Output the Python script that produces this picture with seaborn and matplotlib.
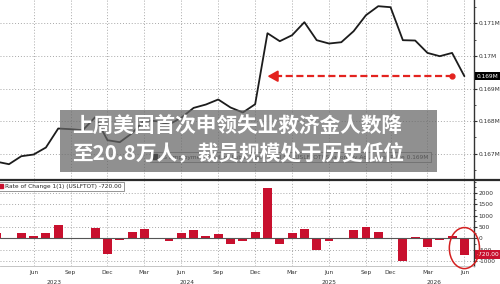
import numpy as np
import pandas as pd
import matplotlib
matplotlib.use("Agg")
import matplotlib.pyplot as plt
import matplotlib.transforms as mtransforms
from matplotlib.patches import Ellipse, Rectangle, Patch
from matplotlib.lines import Line2D
from matplotlib.ticker import MultipleLocator
import seaborn as sns

# ---------------- data ----------------
months = ["2023-03", "2023-04", "2023-05", "2023-06", "2023-07", "2023-08", "2023-09",
          "2023-10", "2023-11", "2023-12",
          "2024-01", "2024-02", "2024-03", "2024-04", "2024-05", "2024-06", "2024-07",
          "2024-08", "2024-09", "2024-10", "2024-11", "2024-12",
          "2025-01", "2025-02", "2025-03", "2025-04", "2025-05", "2025-06", "2025-07",
          "2025-08", "2025-09", "2025-11", "2025-12",
          "2026-01", "2026-02", "2026-03", "2026-04", "2026-05", "2026-06"]
# labour force level (thousands)
level = [166755, 166678, 166923, 166975, 167190, 167773, 167752, 167721, 168120, 167414,
         167353, 167629, 168028, 167997, 167896, 168104, 168405, 168509, 168663, 168417,
         168264, 168518,
         170696, 170451, 170635, 171034, 170482, 170380, 170420, 170758, 171248, 171525,
         171494,
         170482, 170472, 170092, 169991, 170092, 169377]
# month-over-month change (thousands)
change = [250, -50, 250, 90, 220, 600, -30, -40, 440, -700,
          -80, 280, 410, -30, -120, 240, 370, 120, 180, -240, -120, 280,
          2200, -240, 220, 410, -530, -100, 30, 350, 520, 300, -30,
          -1000, 40, -380, -90, 100, -720]
level_ticks = [167000, 168000, 169000, 170000, 171000]
change_ticks = [-1000, -500, 0, 500, 1000, 1500, 2000]
title_lines = ["上周美国首次申领失业救济金人数降", "至20.8万人，裁员规模处于历史低位"]
top_legend = "US Employment Civilian Labor Force Total SA (USLFTOT) Seasonally Adj.   Last Price 0.169M"
bottom_legend = "Rate of Change 1(1) (USLFTOT) -720.00"

# ---------------- style ----------------
sns.set_theme(style="white")
plt.rcParams["font.family"] = ["DejaVu Sans"]
plt.rcParams["axes.unicode_minus"] = False

RED = "#c8102e"
ARROW = "#e3231f"
GRID = dict(color="#a8a8a8", linestyle=(0, (1, 2)), linewidth=0.7)
FS = 4.2

W, H = 500, 284
fig = plt.figure(figsize=(W / 100, H / 100), dpi=100)
fig.patch.set_facecolor("white")


def rect(x0, y0, x1, y1):
    return [x0 / W, 1 - y1 / H, (x1 - x0) / W, (y1 - y0) / H]


ax1 = fig.add_axes(rect(0, 0, 474, 179))
ax2 = fig.add_axes(rect(0, 181, 474, 266))

df = pd.DataFrame({"idx": np.arange(len(months)), "month": months,
                   "level": level, "change": change})

sns.lineplot(data=df, x="idx", y="level", ax=ax1, color="#1c1c1c", lw=1.3)
sns.barplot(data=df, x="idx", y="change", ax=ax2, color=RED, width=0.72,
            native_scale=True, saturation=1, errorbar=None, edgecolor="none")

xlim = (0.27, 38.78)
quarters = [i for i, m in enumerate(months)
            if m[-2:] in ("03", "06", "09", "12") and xlim[0] <= i <= xlim[1]]
qnames = [pd.Timestamp(months[i] + "-01").strftime("%b") for i in quarters]

for ax in (ax1, ax2):
    ax.set_xticks(quarters)
    ax.set_xlim(*xlim)
    ax.set_axisbelow(True)
    ax.set_xlabel("")
    ax.set_ylabel("")
    ax.yaxis.tick_right()
    for s in ("left", "top", "bottom"):
        ax.spines[s].set_visible(False)
    ax.spines["right"].set_color("#333333")
    ax.spines["right"].set_linewidth(1.0)

# top panel
ax1.set_ylim(166224, 171715)
ax1.set_yticks(level_ticks)
ax1.set_yticklabels([f"{v / 1e6:g}M" for v in level_ticks])
ax1.yaxis.set_minor_locator(MultipleLocator(500))
ax1.tick_params(axis="x", length=0, labelbottom=False)
ax1.tick_params(axis="y", which="major", length=2.5, width=0.8, color="#333",
                labelsize=FS, labelcolor="#333", pad=1)
ax1.tick_params(axis="y", which="minor", length=1.5, width=0.6, color="#333")
ax1.grid(True, which="major", **GRID)

# bottom panel
ax2.set_ylim(-1220, 2529)
ax2.set_yticks(change_ticks)
ax2.set_yticklabels([str(v) for v in change_ticks])
ax2.yaxis.set_minor_locator(MultipleLocator(250))
ax2.set_xticklabels(qnames)
ax2.tick_params(axis="x", length=1.5, width=0.5, color="#999", labelsize=FS,
                labelcolor="#333", pad=1.5)
ax2.tick_params(axis="y", which="major", length=2.5, width=0.8, color="#333",
                labelsize=FS, labelcolor="#333", pad=1)
ax2.tick_params(axis="y", which="minor", length=1.5, width=0.6, color="#333")
ax2.grid(True, which="major", **GRID)
ax2.axhline(0, color="#555555", lw=0.8, zorder=1)
ax2.spines["bottom"].set_visible(True)
ax2.spines["bottom"].set_color("#bbbbbb")
ax2.spines["bottom"].set_linewidth(0.6)

# year labels
years = sorted(set(m[:4] for m in months))
trans2 = mtransforms.blended_transform_factory(ax2.transData, ax2.transAxes)
for y in years:
    idxs = [i for i, m in enumerate(months) if m.startswith(y)]
    a, b = max(idxs[0], xlim[0]), min(idxs[-1], xlim[1])
    ax2.text((a + b) / 2, -0.19, y, transform=trans2, ha="center", va="center",
             fontsize=FS, color="#333")

# last-value tags
tr1 = mtransforms.blended_transform_factory(ax1.transAxes, ax1.transData)
ax1.text(1.006, level[-1], f"{level[-1] / 1e6:.3f}M", transform=tr1, ha="left",
         va="center", fontsize=FS, color="white", clip_on=False,
         bbox=dict(boxstyle="square,pad=0.3", fc="black", ec="none"))
tr2 = mtransforms.blended_transform_factory(ax2.transAxes, ax2.transData)
ax2.text(1.006, change[-1], f"{change[-1]:.2f}", transform=tr2, ha="left",
         va="center", fontsize=FS, color="white", clip_on=False,
         bbox=dict(boxstyle="square,pad=0.3", fc=RED, ec="none"))

# legends
leg1 = ax1.legend(handles=[Patch(color="black")], labels=[top_legend],
                  loc="upper left", bbox_to_anchor=(0.31, 0.165), fontsize=FS,
                  frameon=True, fancybox=False, edgecolor="#666", handlelength=0.8,
                  handleheight=0.8, borderpad=0.35, handletextpad=0.5)
leg1.get_frame().set_linewidth(0.6)
leg2 = ax2.legend(handles=[Patch(color=RED)], labels=[bottom_legend],
                  loc="upper left", bbox_to_anchor=(-0.01, 1.0), fontsize=FS,
                  frameon=True, fancybox=False, edgecolor="#666", handlelength=0.8,
                  handleheight=0.8, borderpad=0.35, handletextpad=0.5,
                  borderaxespad=0.1)
leg2.get_frame().set_linewidth(0.6)

# dashed red arrow at latest level
i_start = months.index("2025-01")
i_end = months.index("2026-05")
ya = level[-1]
ax1.plot([i_start + 0.6, i_end], [ya, ya], color=ARROW, lw=1.6,
         linestyle=(0, (3.2, 1.6)), zorder=4)
ax1.annotate("", xy=(i_start, ya), xytext=(i_start + 0.9, ya),
             arrowprops=dict(arrowstyle="-|>,head_length=0.5,head_width=0.28",
                             color=ARROW, lw=1.4, shrinkA=0, shrinkB=0), zorder=4)
ax1.plot([i_end], [ya], "o", ms=3.5, color=ARROW, zorder=4)

# red circle around the last bar
ax2.add_patch(Ellipse((len(months) - 1, -430), width=2.45, height=1810, fill=False,
                      ec="#d42020", lw=1.1, clip_on=False, zorder=5))

# panel separator
fig.add_artist(Line2D([0, 1], [1 - 180 / H] * 2, transform=fig.transFigure,
                      color="#2a2a2a", lw=1.6))

# title band overlay
fig.add_artist(Rectangle((60 / W, 1 - 172 / H), 377 / W, 62 / H,
                         transform=fig.transFigure, fc=(0.40, 0.40, 0.40),
                         alpha=0.72, ec="none", zorder=10))
for k, line in enumerate(title_lines):
    fig.text(72 / W, 1 - (126 + 28 * k) / H, line, ha="left", va="center",
             fontsize=14.9, fontweight="bold", color="white",
             family=["Noto Sans CJK SC", "DejaVu Sans"], zorder=11)

fig.savefig("out.png", dpi=100, facecolor="white")
